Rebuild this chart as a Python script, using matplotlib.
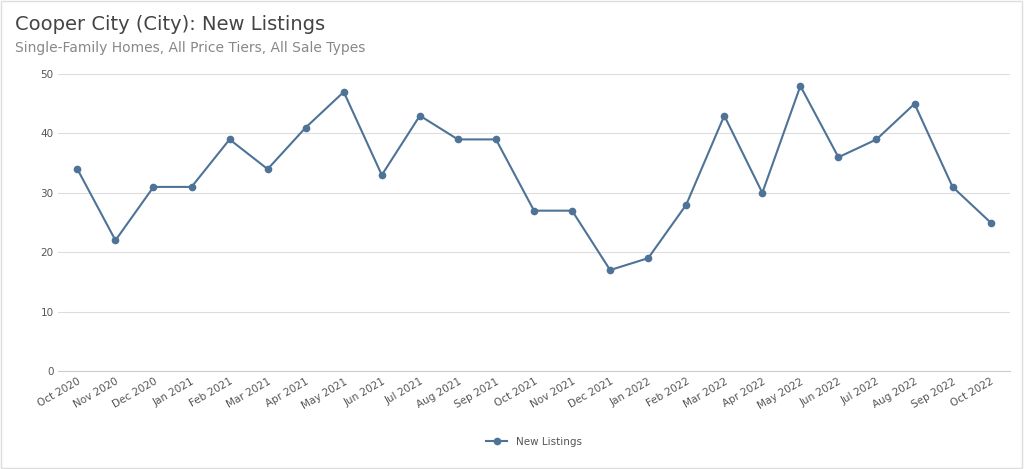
import matplotlib
matplotlib.use("Agg")
import matplotlib.pyplot as plt

months = ["Oct 2020","Nov 2020","Dec 2020","Jan 2021","Feb 2021","Mar 2021","Apr 2021","May 2021",
          "Jun 2021","Jul 2021","Aug 2021","Sep 2021","Oct 2021","Nov 2021","Dec 2021","Jan 2022",
          "Feb 2022","Mar 2022","Apr 2022","May 2022","Jun 2022","Jul 2022","Aug 2022","Sep 2022","Oct 2022"]
new_listings = [34,22,31,31,39,34,41,47,33,43,39,39,27,27,17,19,28,43,30,48,36,39,45,31,25]
yticks = [0,10,20,30,40,50]

fig = plt.figure(figsize=(10.24,4.69), dpi=100)
fig.patches.append(plt.Rectangle((0.001,0.002),0.997,0.995,transform=fig.transFigure,
                                 fill=False,edgecolor="#dddddd",lw=1))
ax = fig.add_axes([0.057,0.209,0.929,0.633])
color = "#4e7397"
x = list(range(len(months)))
ax.plot(x, new_listings, color=color, lw=1.5, marker="o", ms=4.5, label="New Listings")
ax.set_xlim(-0.5, len(months)-0.5)
ax.set_ylim(0,50)
ax.set_yticks(yticks)
ax.set_xticks(x)
ax.set_xticklabels(months, rotation=30, ha="right", rotation_mode="anchor", fontsize=7.5, color="#555555")
ax.tick_params(axis="y", labelsize=7.5, colors="#555555", length=0)
ax.tick_params(axis="x", length=0, pad=4)
ax.grid(axis="y", color="#dddddd", lw=0.8)
for s in ["top","right","left"]:
    ax.spines[s].set_visible(False)
ax.spines["bottom"].set_color("#cccccc")
ax.set_axisbelow(True)
fig.text(0.015,0.935,"Cooper City (City): New Listings",fontsize=14,color="#444444")
fig.text(0.015,0.89,"Single-Family Homes, All Price Tiers, All Sale Types",fontsize=10,color="#888888")
ax.legend(loc="upper center", bbox_to_anchor=(0.5,-0.19), frameon=False, fontsize=7.5, labelcolor="#555555")
fig.savefig("out.png", dpi=100)
